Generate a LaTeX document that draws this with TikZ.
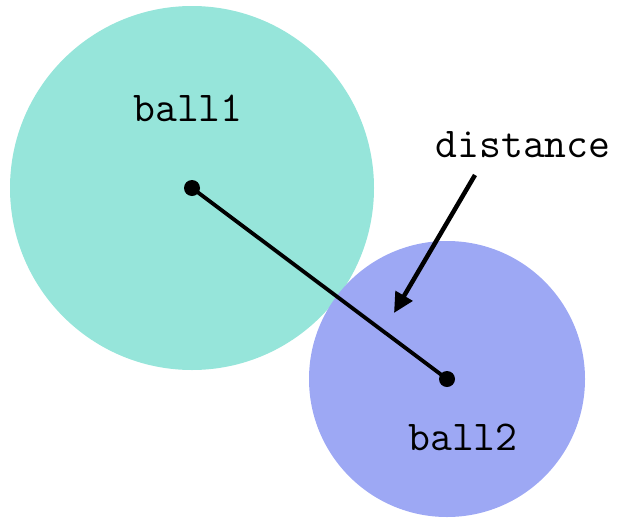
\documentclass[tikz,border=0pt]{standalone}
\usepackage{xcolor}
\usetikzlibrary{arrows.meta}

\definecolor{ballone}{RGB}{150,229,218}
\definecolor{balltwo}{RGB}{157,168,244}

\begin{document}
\begin{tikzpicture}[x=1pt,y=-1pt,>=Latex]
    \tikzset{lbl/.style={font=\ttfamily\fontsize{42.5}{44}\selectfont,inner sep=0pt,anchor=base}}
    \useasboundingbox (0,0) rectangle (621,517);
    % the two balls
    \coordinate (c1) at (192,188);
    \coordinate (c2) at (447,379);
    \fill[ballone] (c1) circle (182);
    \fill[balltwo] (c2) circle (138);
    \node[lbl] (ball1) at (188,121) {ball1};
    \node[lbl] (ball2) at (463,450) {ball2};
    % distance between centres
    \draw[line width=3.8pt] (c1) -- (c2);
    \fill (c1) circle (8);
    \fill (c2) circle (8);
    \node[lbl] (dist) at (523,157) {distance};
    \coordinate (tail) at (475,175);
    \coordinate (tip) at (394,313);
    \draw[line width=4.5pt,-{Triangle[length=20pt,width=19pt]}] (tail) -- (tip);
\end{tikzpicture}
\end{document}
